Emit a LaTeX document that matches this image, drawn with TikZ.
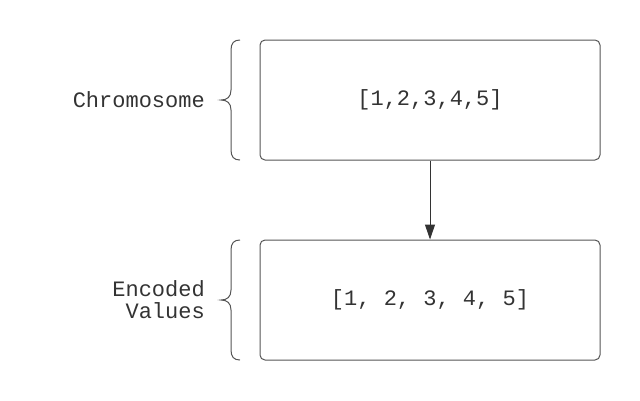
\documentclass[tikz,border=0pt]{standalone}
\usepackage{fontspec}
\setmonofont{Liberation Mono}
\usetikzlibrary{arrows.meta}
\definecolor{ink}{HTML}{333333}
\definecolor{edge}{HTML}{555555}
\tikzset{
  databox/.style={draw=edge, line width=1pt, rounded corners=5pt, minimum width=340pt, minimum height=120pt, inner sep=0pt, text=ink, font=\ttfamily\fontsize{22}{24}\selectfont},
  lbl/.style={text=ink, font=\ttfamily\fontsize{22}{22}\selectfont, align=right, anchor=east, inner sep=0pt},
  bracepath/.style={draw=edge, line width=1pt},
  conn/.style={draw=ink, line width=1pt, -{Triangle[length=15pt,width=10pt]}}
}
\begin{document}
\begin{tikzpicture}[x=1pt,y=-1pt]
\useasboundingbox (0,0) rectangle (640,400);
\node[databox] (top) at (430,100) {[1,2,3,4,5]};
\node[databox] (bot) at (430,300) {[1, 2, 3, 4, 5]};
\draw[conn] (top.south) -- (bot.north);
\node[lbl] (chrom) at (205,100) {Chromosome};
\node[lbl] (enc) at (205,300) {Encoded\\Values};
\foreach \y in {40,240}{
  \draw[bracepath] (240,\y) .. controls (234,\y) and (231,\y+3) .. (231,\y+10)
    -- (231,\y+50) .. controls (231,\y+57) and (227,\y+60) .. (221,\y+60)
    .. controls (227,\y+60) and (231,\y+63) .. (231,\y+70)
    -- (231,\y+110) .. controls (231,\y+117) and (234,\y+120) .. (240,\y+120);
}
\end{tikzpicture}
\end{document}
